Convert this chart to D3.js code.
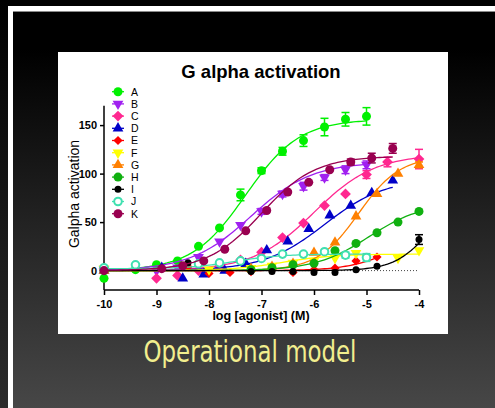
<!DOCTYPE html>
<meta charset="utf-8">
<style type="text/css">
html, body{
	padding: 0;
	margin: 0;
	background: #000;
}
svg text{ font-family: "Liberation Sans", Arial, sans-serif; }
</style>

<svg width=495 height=408></svg>

<script src="https://cdn.jsdelivr.net/npm/d3@7"></script>

<script type="text/javascript">
// series names and colours
const names  = ["A","B","C","D","E","F","G","H","I","J","K"];
const colors = ["#00f000","#a020f0","#ff2890","#0000c8","#ff0000","#ffff00","#ff8000","#10b010","#000000","#40e0b0","#990050"];
const shapes = ["circle","down","diamond","up","smalldiamond","down","up","circle","smallcircle","ring","circle"];

// log[agonist] / response / error
const xA = [-10,-9.4,-9,-8.6,-8.2,-7.8,-7.4,-7,-6.6,-6.2,-5.8,-5.4,-5];
const yA = [-8,1,6,10,25,44,78,103,123,134,148,156,159];
const eA = [0,0,0,0,0,0,6,3,4,6,9,7,9];
const xB = [-10,-9,-8.6,-8.2,-7.8,-7.4,-7,-6.6,-6.2,-5.8,-5.4,-5];
const yB = [1,0,3,14,30,47,61,79,87,96,104,109];
const eB = [0,0,0,0,0,0,3,3,4,3,4,4];
const xC = [-10,-9,-8.6,-8.2,-7.8,-7.4,-7,-6.6,-6.2,-5.8,-5.4,-5,-4.6,-4];
const yC = [2,-8,-5,0,4,11,19,34,49,67,79,99,112,115];
const eC = [0,0,0,0,0,0,0,0,0,0,0,4,5,10];
const xD = [-10,-8.9,-8.5,-8.1,-7.7,-7.3,-6.9,-6.5,-6.1,-5.7,-5.3,-4.9,-4.5];
const yD = [0,3,-8,-4,0,7,21,30,43,57,67,80,93];
const eD = [0,0,0,0,0,0,0,0,0,0,0,0,0];
const xE = [-10,-8.4,-8,-7.6,-7.2,-6.8,-6.4,-6,-5.6,-5.2,-4.8];
const yE = [0,4,-3,-2,-1,0.5,-2,1,2.5,10,14];
const eE = [0,0,0,0,0,0,0,0,0,0,0];
const xF = [-10,-8,-7.2,-6.8,-6.4,-6,-5.6,-5.2,-4.4,-4];
const yF = [2,1,2.5,5,8,10,13,18,13,21];
const eF = [0,0,0,0,0,0,0,0,0,0];
const xG = [-10,-7.2,-6.8,-6.4,-6,-5.6,-5.2,-4.8,-4.4,-4];
const yG = [0,2,4,7,18.5,29,56,79,100,109];
const eG = [0,0,0,0,0,0,0,0,0,3];
const xH = [-10,-7.2,-6.8,-6.4,-6,-5.6,-5.2,-4.8,-4.4,-4];
const yH = [0,1,3,6,7.5,20.5,28,39,50,61];
const eH = [0,0,0,0,0,0,0,0,0,0];
const xI = [-10,-8.4,-7.2,-6.8,-6.4,-6,-5.6,-5.2,-4.8,-4];
const yI = [2,8,-1,-1,-1,-2,-2,1,4.5,32];
const eI = [0,0,0,0,0,0,0,0,0,5];
const xJ = [-10,-9.4,-8.2,-7.8,-7.4,-7,-6.6,-6.2,-5.8,-5.4,-5];
const yJ = [3,6,7,8,10,12.5,17,17,19.5,16,13.5];
const eJ = [0,0,0,0,0,0,0,0,0,3,4];
const xK = [-10,-8.9,-8.5,-8.1,-7.7,-7.3,-6.9,-6.5,-6.1,-5.7,-5.3,-4.9,-4.5];
const yK = [0,2,5,10,22,41,62,81,91,104,112,116,126];
const eK = [0,0,0,0,0,0,0,0,0,0,3,5,5];

// fitted curve parameters (operational model fits)
const fitBottom = [0,0,0,0,0,0,0,0,0,2,0];
const fitTop    = [156,112,120,95,40,17,118,70,80,17,118];
const fitLogEC  = [-7.3,-7.2,-6.0,-5.8,-4.5,-6.6,-5.15,-4.95,-3.8,-7.5,-7.0];
const fitHill   = [0.85,0.75,0.75,0.75,1,0.9,1.1,0.85,1.3,1,0.85];

const xTicks = [-10,-9,-8,-7,-6,-5,-4];
const yTicks = [0,50,100,150];

const xs = [xA,xB,xC,xD,xE,xF,xG,xH,xI,xJ,xK];
const ys = [yA,yB,yC,yD,yE,yF,yG,yH,yI,yJ,yK];
const es = [eA,eB,eC,eD,eE,eF,eG,eH,eI,eJ,eK];

const svg = d3.select('svg');

// background
const defs = svg.append('defs');
const bg = defs.append('linearGradient').attr('id','bg').attr('x1',0).attr('y1',0).attr('x2',0).attr('y2',1);
bg.append('stop').attr('offset','0%').attr('stop-color','#000');
bg.append('stop').attr('offset','12%').attr('stop-color','#000');
bg.append('stop').attr('offset','100%').attr('stop-color','#474747');
const bgl = defs.append('linearGradient').attr('id','bgl').attr('x1',0).attr('y1',0).attr('x2',0).attr('y2',1);
bgl.append('stop').attr('offset','0%').attr('stop-color','#000');
bgl.append('stop').attr('offset','100%').attr('stop-color','#2c2c2c');

svg.append('rect').attr('width',495).attr('height',408).attr('fill','url(#bg)');
svg.append('rect').attr('width',8).attr('height',408).attr('fill','url(#bgl)');
svg.append('rect').attr('x',8).attr('y',6).attr('width',5).attr('height',402).attr('fill','#fff');
svg.append('rect').attr('x',8).attr('y',6).attr('width',487).attr('height',5).attr('fill','#fff');
svg.append('rect').attr('x',13).attr('y',11).attr('width',482).attr('height',1).attr('fill','#8a8a8a');

// white panel
svg.append('rect').attr('x',58).attr('y',52).attr('width',390).attr('height',282).attr('fill','#fff');

svg.append('text').attr('x',250).attr('y',362).attr('text-anchor','middle')
	.style('font-family','"Liberation Sans Narrow","Arial Narrow","DejaVu Sans Condensed",sans-serif')
	.style('font-size','30px').style('fill','#f2ee8e')
	.attr('textLength',213).attr('lengthAdjust','spacingAndGlyphs')
	.text('Operational model');

var x = d3.scaleLinear().domain([-10,-4]).range([104,419]);
var y = d3.scaleLinear().domain([-20,170]).range([290,105.7]);

// title & axis labels
svg.append('text').attr('x',261).attr('y',78).attr('text-anchor','middle')
	.style('font-weight','bold').style('font-size','18.5px').text('G alpha activation');
svg.append('text').attr('transform','translate(79,194) rotate(-90)').attr('text-anchor','middle')
	.style('font-size','14px').text('Galpha activation');
svg.append('text').attr('x',261).attr('y',320).attr('text-anchor','middle')
	.style('font-weight','bold').style('font-size','12.5px').text('log [agonist] (M)');

// axes
var gx = svg.append('g').attr('transform','translate(0,290)')
	.call(d3.axisBottom(x).tickValues(xTicks).tickSize(5).tickSizeOuter(0).tickFormat(d3.format('d')));
var gy = svg.append('g').attr('transform','translate(104,0)')
	.call(d3.axisLeft(y).tickValues(yTicks).tickSize(4).tickSizeOuter(0));
[gx,gy].forEach(g=>{
	g.selectAll('path,line').attr('stroke','#000').attr('stroke-width',1.5);
	g.selectAll('text').style('font-weight','bold').style('font-size','11px').attr('fill','#000');
});
gx.selectAll('text').attr('dy','0.95em').text(d=>d3.format('d')(d).replace('−','-'));
gx.select('.domain').attr('d','M104,0H419');
gy.select('.domain').attr('d','M0,290V105.7');

// dotted baseline at zero
svg.append('line').attr('x1',x(-10)).attr('x2',x(-4)).attr('y1',y(0)).attr('y2',y(0))
	.attr('stroke','#444').attr('stroke-dasharray','1,2');

function marker(sel, shape, color){
	if(shape=='circle'||shape=='smallcircle'){
		sel.append('circle').attr('r',shape=='circle'?4.5:3.5).attr('fill',color);
	}else if(shape=='ring'){
		sel.append('circle').attr('r',3.8).attr('fill','#fff').attr('stroke',color).attr('stroke-width',2);
	}else if(shape=='up'||shape=='down'){
		sel.append('path').attr('d',d3.symbol(d3.symbolTriangle,50)())
			.attr('transform',shape=='down'?'rotate(180)':null).attr('fill',color);
	}else{
		sel.append('path').attr('d',d3.symbol(d3.symbolSquare,shape=='diamond'?58:42)())
			.attr('transform','rotate(45)').attr('fill',color);
	}
}

var line = d3.line().x(d=>x(d[0])).y(d=>y(d[1]));

names.forEach((n,i)=>{
	var c = colors[i];
	var pts = xs[i].map((v,p)=>({x:v,y:ys[i][p],e:es[i][p]}));
	var g = svg.append('g');
	// fitted curve
	var lo = d3.min(xs[i]), hi = d3.max(xs[i]);
	var curve = d3.range(lo,hi+0.001,0.05).map(v=>[v,fitBottom[i]+(fitTop[i]-fitBottom[i])/(1+Math.pow(10,(fitLogEC[i]-v)*fitHill[i]))]);
	g.append('path').attr('d',line(curve)).attr('fill','none').attr('stroke',c).attr('stroke-width',1.3);
	// error bars
	var eb = g.selectAll('g.eb').data(pts.filter(d=>d.e>0)).enter().append('g');
	eb.append('line').attr('x1',d=>x(d.x)).attr('x2',d=>x(d.x)).attr('y1',d=>y(d.y-d.e)).attr('y2',d=>y(d.y+d.e))
		.attr('stroke',c).attr('stroke-width',1.5);
	eb.append('line').attr('x1',d=>x(d.x)-4).attr('x2',d=>x(d.x)+4).attr('y1',d=>y(d.y+d.e)).attr('y2',d=>y(d.y+d.e))
		.attr('stroke',c).attr('stroke-width',1.5);
	eb.append('line').attr('x1',d=>x(d.x)-4).attr('x2',d=>x(d.x)+4).attr('y1',d=>y(d.y-d.e)).attr('y2',d=>y(d.y-d.e))
		.attr('stroke',c).attr('stroke-width',1.5);
	// points
	g.selectAll('g.pt').data(pts).enter().append('g')
		.attr('transform',d=>`translate(${x(d.x)},${y(d.y)})`)
		.each(function(){ marker(d3.select(this), shapes[i], c); });
});

// legend
names.forEach((n,i)=>{
	var g = svg.append('g').attr('transform',`translate(118,${91.7+i*12.2})`);
	g.append('line').attr('x1',-6).attr('x2',6).attr('stroke',colors[i]).attr('stroke-width',1.3);
	marker(g, shapes[i], colors[i]);
	g.append('text').attr('x',13).attr('y',3.8).style('font-size','10.5px').text(n);
});
</script>
